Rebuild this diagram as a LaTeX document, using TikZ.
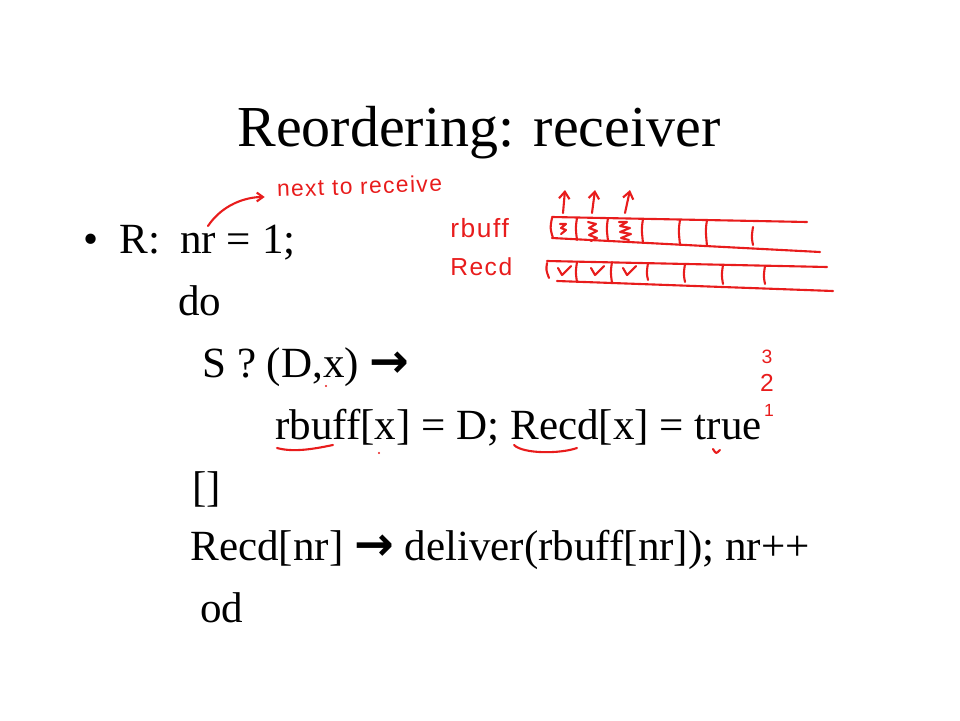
\documentclass[tikz,border=0pt]{standalone}
\usepackage{fontspec}
\setmainfont{Liberation Serif}
\newfontfamily\penfont[LetterSpace=6]{Liberation Sans}
\newfontfamily\arrowfont{DejaVu Sans}
\usetikzlibrary{arrows.meta}
\definecolor{pen}{RGB}{232,28,28}
\newcommand{\thickarrow}{{\arrowfont\bfseries\fontsize{27}{28}\selectfont →}}

\begin{document}
\begin{tikzpicture}[
  x=0.02cm, y=-0.02cm,
  line/.style={anchor=base west, inner sep=0pt, font=\fontsize{24.5}{29}\selectfont},
  ink/.style={draw=pen, line width=1.2pt, line cap=round, line join=round},
  note/.style={text=pen, inner sep=0pt, font=\penfont\fontsize{13}{15}\selectfont},
  font=\small
]
\useasboundingbox (0,0) rectangle (960,720);

% Title
\node[anchor=base, inner sep=0pt, font=\fontsize{33}{40}\selectfont] (title) at (479,146) {Reordering: receiver};

% Receiver code
\node[line] (bullet) at (83,253) {\textbullet};
\node[line] (R) at (119,253) {R:};
\node[line] (nr) at (180,253) {nr = 1;};
\node[line] (do) at (178,315) {do};
\node[line] (recv) at (202,377) {S ? (D,x) \thickarrow};
\node[line] (store) at (275,439) {rbuff[x] = D; Recd[x] = true};
\node[line] (alt) at (192,501) {[]};
\node[line] (deliver) at (190,560) {Recd[nr] \thickarrow\ deliver(rbuff[nr]);\ nr++};
\node[line] (od) at (200,622) {od};

% Pen notes
\node[note, anchor=base west, rotate=2] (next) at (277,197) {next to receive};
\coordinate (nrmark) at (208,226);
\draw[ink,-{Straight Barb[length=3.5pt,width=5pt]}, shorten >=7pt] (nrmark) .. controls (222,205) and (245,197) .. (next.base west);

\node[note, anchor=base west, font=\penfont\fontsize{15}{17}\selectfont] (rbufflbl) at (450,237) {rbuff};
\node[note, anchor=base west, font=\penfont\fontsize{14}{16}\selectfont] (recdlbl) at (450,275) {Recd};

% rbuff buffer
\draw[ink] (552,217) -- (807,222);
\draw[ink] (552,238) -- (820,252);
\draw[ink] (552,218) .. controls (550,228) .. (553,238);
\foreach \x/\yt/\yb in {577/218/240, 608/218/241, 643/219/243, 680/220/245, 707/220/246, 753/227/245}
  \draw[ink] (\x,\yt) .. controls (\x-1.5,\yt+10) .. (\x,\yb);
% scribbled data
\draw[ink] (560,224) -- (566,224) -- (561,228) -- (566,230) -- (561,234);
\draw[ink] (588,222) -- (596,224) -- (589,228) -- (597,231) -- (589,235) -- (597,238) -- (591,241);
\draw[ink] (619,222) -- (627,222) -- (620,226) -- (630,228) -- (620,232) -- (631,234) -- (621,238) -- (629,240);
% delivered arrows
\foreach \xa/\xb in {563/565, 592/595, 625/630}
  \draw[ink,-{Straight Barb[length=4pt,width=6pt]}] (\xa,213) -- (\xb,190);

% Recd buffer
\draw[ink] (547,261) -- (827,267);
\draw[ink] (557,281) -- (833,291);
\draw[ink] (547,263) .. controls (546,270) .. (549,278);
\foreach \x/\yt/\yb in {577/262/282, 612/262/283, 648/263/280, 685/264/282, 723/265/284, 765/266/284}
  \draw[ink] (\x,\yt) .. controls (\x-1.5,\yt+10) .. (\x,\yb);
\foreach \x in {565,598,630}
  \draw[ink] (\x-7,268) -- (\x-3,275) -- (\x+6,266);

% Marks on the code
\draw[ink] (277,448) .. controls (295,453) and (318,448) .. (333,445);
\draw[ink] (514,445) .. controls (523,454) and (560,454) .. (577,448);
\draw[ink] (713,449) .. controls (716,454) .. (720,450);
\fill[pen] (326,386) circle (1.2);
\fill[pen] (379,453) circle (1.2);

% Iteration counts
\node[note, font=\penfont\fontsize{11}{12}\selectfont] (three) at (767,357) {3};
\node[note, font=\penfont\fontsize{14}{15}\selectfont] (two) at (767,383) {2};
\node[note, font=\penfont\fontsize{10}{12}\selectfont] (one) at (769,410) {1};

\end{tikzpicture}
\end{document}
